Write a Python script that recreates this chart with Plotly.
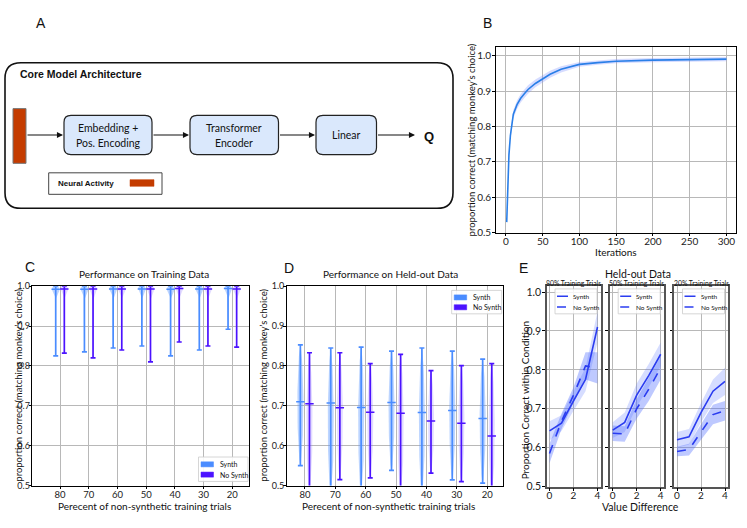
import numpy as np
import plotly.graph_objects as go

W, H = 747, 528
FONT = "Lato"

# ---------------- data ----------------
# Panel B: training curve
iterations = [1, 2, 3, 4, 6, 8, 10, 15, 20, 25, 30, 40, 50, 60, 75, 100, 125, 150, 200, 250, 300]
train_acc = [0.53, 0.62, 0.68, 0.72, 0.775, 0.81, 0.835, 0.862, 0.88, 0.893, 0.905, 0.922, 0.935,
             0.948, 0.962, 0.976, 0.981, 0.985, 0.988, 0.990, 0.991]
train_err = [0.004, 0.008, 0.01, 0.01, 0.012, 0.012, 0.012, 0.012, 0.012, 0.012, 0.012, 0.011, 0.011,
             0.01, 0.009, 0.007, 0.006, 0.006, 0.006, 0.006, 0.006]

# Panels C/D: percent of non-synthetic training trials
pct_labels = ["80", "70", "60", "50", "40", "30", "20"]

C_synth_min = [0.825, 0.835, 0.845, 0.850, 0.825, 0.840, 0.892]
C_synth_med = [0.992, 0.992, 0.993, 0.993, 0.992, 0.993, 0.994]
C_synth_max = [1.0, 1.0, 1.0, 1.0, 1.0, 1.0, 1.0]
C_nosyn_min = [0.832, 0.820, 0.840, 0.810, 0.860, 0.850, 0.847]
C_nosyn_med = [0.993, 0.993, 0.993, 0.993, 0.994, 0.993, 0.993]
C_nosyn_max = [1.0, 1.0, 1.0, 1.0, 1.0, 1.0, 1.0]

D_synth_min = [0.550, 0.470, 0.470, 0.538, 0.470, 0.514, 0.506]
D_synth_med = [0.710, 0.707, 0.696, 0.708, 0.683, 0.688, 0.668]
D_synth_max = [0.853, 0.845, 0.847, 0.837, 0.845, 0.837, 0.817]
D_nosyn_min = [0.470, 0.515, 0.519, 0.470, 0.531, 0.510, 0.470]
D_nosyn_med = [0.705, 0.695, 0.684, 0.681, 0.662, 0.656, 0.624]
D_nosyn_max = [0.833, 0.833, 0.806, 0.829, 0.788, 0.801, 0.806]

# Panel E: value difference curves
value_diff = [0, 1, 2, 3, 4]
E_titles = ["80% Training Trials", "50% Training Trials", "20% Training Trials"]
E_synth = [[0.643, 0.663, 0.720, 0.775, 0.910],
           [0.645, 0.665, 0.735, 0.785, 0.840],
           [0.620, 0.628, 0.690, 0.745, 0.770]]
E_synth_err = [[0.025, 0.020, 0.025, 0.030, 0.040],
               [0.020, 0.025, 0.030, 0.030, 0.030],
               [0.020, 0.020, 0.025, 0.030, 0.035]]
E_nosyn = [[0.585, 0.668, 0.735, 0.810, 0.805],
           [0.637, 0.635, 0.700, 0.750, 0.805],
           [0.590, 0.595, 0.640, 0.685, 0.695]]
E_nosyn_err = [[0.025, 0.020, 0.020, 0.035, 0.040],
               [0.020, 0.020, 0.025, 0.030, 0.030],
               [0.012, 0.015, 0.020, 0.025, 0.025]]

# ---------------- helpers ----------------
def px(x):
    return x / W


def py(y):
    return 1 - y / H


SYN = "#4a8cff"
NOS = "#4b12ff"
SYN_BODY = "rgba(90,150,255,0.40)"
NOS_BODY = "rgba(140,110,255,0.25)"
ELINE = "#2a3cf0"

fig = go.Figure()

# ---- Panel B ----
lo = [a - e for a, e in zip(train_acc, train_err)]
hi = [a + e for a, e in zip(train_acc, train_err)]
fig.add_trace(go.Scatter(x=iterations, y=hi, mode="lines", line=dict(width=0), showlegend=False,
                         hoverinfo="skip", xaxis="x", yaxis="y"))
fig.add_trace(go.Scatter(x=iterations, y=lo, mode="lines", line=dict(width=0), fill="tonexty",
                         fillcolor="rgba(120,140,255,0.30)", showlegend=False, hoverinfo="skip",
                         xaxis="x", yaxis="y"))
fig.add_trace(go.Scatter(x=iterations, y=train_acc, mode="lines", line=dict(color="#2a7fe8", width=1.6),
                         showlegend=False, xaxis="x", yaxis="y"))


# ---- Panels C / D ----
def add_violins(xa, ya, mins, meds, maxs, off, body, line, kind, hw):
    for i, (a, m, b) in enumerate(zip(mins, meds, maxs)):
        x0 = i + off
        ys = np.linspace(a, b, 60)
        if kind == "C":
            w = hw * np.exp(-((ys - m) / 0.013) ** 2) + 0.012
        else:
            t = (ys - a) / (b - a)
            w = hw * np.sin(np.pi * t) ** 0.6
        xs = np.concatenate([x0 - w, (x0 + w)[::-1]])
        yy = np.concatenate([ys, ys[::-1]])
        fig.add_trace(go.Scatter(x=xs, y=yy, mode="lines", fill="toself", fillcolor=body,
                                 line=dict(width=0), showlegend=False, hoverinfo="skip",
                                 xaxis=xa, yaxis=ya))
    xpos = [i + off for i in range(len(meds))]
    fig.add_trace(go.Scatter(
        x=xpos, y=meds, mode="markers",
        marker=dict(symbol="line-ew", size=6, line=dict(color=line, width=1.5)),
        error_y=dict(type="data", symmetric=False,
                     array=[b - m for b, m in zip(maxs, meds)],
                     arrayminus=[m - a for a, m in zip(mins, meds)],
                     color=line, thickness=1.7, width=2.5),
        showlegend=False, xaxis=xa, yaxis=ya))


add_violins("x2", "y2", C_synth_min, C_synth_med, C_synth_max, -0.15, SYN_BODY, SYN, "C", 0.12)
add_violins("x2", "y2", C_nosyn_min, C_nosyn_med, C_nosyn_max, 0.15, NOS_BODY, NOS, "C", 0.12)
add_violins("x3", "y3", D_synth_min, D_synth_med, D_synth_max, -0.15, SYN_BODY, SYN, "D", 0.10)
add_violins("x3", "y3", D_nosyn_min, D_nosyn_med, D_nosyn_max, 0.15, NOS_BODY, NOS, "D", 0.10)

# ---- Panel E ----
for k in range(3):
    xa, ya = "x%d" % (4 + k), "y%d" % (4 + k)
    for vals, errs, col in [(E_synth[k], E_synth_err[k], "rgba(90,120,255,0.25)"),
                            (E_nosyn[k], E_nosyn_err[k], "rgba(70,100,255,0.35)")]:
        fig.add_trace(go.Scatter(x=value_diff, y=[v + e for v, e in zip(vals, errs)], mode="lines",
                                 line=dict(width=0), showlegend=False, hoverinfo="skip",
                                 xaxis=xa, yaxis=ya))
        fig.add_trace(go.Scatter(x=value_diff, y=[v - e for v, e in zip(vals, errs)], mode="lines",
                                 line=dict(width=0), fill="tonexty", fillcolor=col, showlegend=False,
                                 hoverinfo="skip", xaxis=xa, yaxis=ya))
    fig.add_trace(go.Scatter(x=value_diff, y=E_synth[k], mode="lines",
                             line=dict(color=ELINE, width=1.6), showlegend=False, xaxis=xa, yaxis=ya))
    fig.add_trace(go.Scatter(x=value_diff, y=E_nosyn[k], mode="lines",
                             line=dict(color=ELINE, width=1.6, dash="dash"), showlegend=False,
                             xaxis=xa, yaxis=ya))

# ---------------- axes ----------------
common = dict(showline=True, linecolor="black", linewidth=1.2, mirror=True, ticks="outside",
              ticklen=2.5, tickcolor="black", gridcolor="#b8b8b8", gridwidth=1, zeroline=False,
              tickfont=dict(family=FONT, size=10, color="#222"), fixedrange=True,
              ticklabelstandoff=-3)
cdfont = dict(family=FONT, size=9.5, color="#222")
cdyfont = dict(family=FONT, size=9, color="#222")
efont = dict(family=FONT, size=10.5, color="#222")
exfont = dict(family=FONT, size=10, color="#222")

layout_axes = {}
layout_axes["xaxis"] = dict(common, domain=[px(495.7), px(736)], anchor="y", range=[-14, 313],
                            tickvals=[0, 50, 100, 150, 200, 250, 300])
layout_axes["yaxis"] = dict(common, domain=[py(232), py(42)], anchor="x", range=[0.5, 1.025],
                            tickvals=[0.5, 0.6, 0.7, 0.8, 0.9, 1.0], tickformat=".1f",
                            ticklabelstandoff=-1)
layout_axes["xaxis2"] = dict(common, domain=[px(32.3), px(249.3)], anchor="y2", range=[-0.965, 6.59],
                             tickvals=list(range(7)), ticktext=pct_labels, tickfont=cdfont)
layout_axes["yaxis2"] = dict(common, domain=[py(490.7), py(286.7)], anchor="x2", range=[0.5, 1.0],
                             tickvals=[0.5, 0.6, 0.7, 0.8, 0.9, 1.0], tickformat=".1f", tickfont=cdyfont)
layout_axes["xaxis3"] = dict(common, domain=[px(286.7), px(503)], anchor="y3", range=[-0.6, 6.52],
                             tickvals=list(range(7)), ticktext=pct_labels, tickfont=cdfont)
layout_axes["yaxis3"] = dict(common, domain=[py(490.7), py(286.7)], anchor="x3", range=[0.5, 1.0],
                             tickvals=[0.5, 0.6, 0.7, 0.8, 0.9, 1.0], tickformat=".1f", tickfont=cdyfont)
E_dom = [(546.5, 600.5), (609.7, 663.7), (674, 728)]
for k in range(3):
    n = 4 + k
    layout_axes["xaxis%d" % n] = dict(common, domain=[px(E_dom[k][0]), px(E_dom[k][1])],
                                      anchor="y%d" % n, range=[-0.25, 4.25], tickvals=[0, 2, 4],
                                      linecolor="#555", linewidth=1.5, tickfont=exfont,
                                      ticklabelstandoff=-4)
    layout_axes["yaxis%d" % n] = dict(common, domain=[py(491.7), py(286.7)], anchor="x%d" % n,
                                      range=[0.5, 1.015], tickvals=[0.5, 0.6, 0.7, 0.8, 0.9, 1.0],
                                      tickformat=".1f", showticklabels=(k == 0),
                                      linecolor="#555", linewidth=1.5, tickfont=efont,
                                      ticklabelstandoff=-1)

# ---------------- annotations & shapes ----------------
ann = []
shapes = []


def text(x, y, s, size=10, bold=False, angle=0, xanchor="center", family=FONT, color="#111"):
    ann.append(dict(x=px(x), y=py(y), xref="paper", yref="paper", text=("<b>%s</b>" % s) if bold else s,
                    showarrow=False, textangle=angle, xanchor=xanchor, yanchor="middle",
                    font=dict(family=family, size=size, color=color)))


def rrect(x0, y0, x1, y1, r, fill, line, lw):
    rx, ry = r / W, r / H
    X0, X1 = px(x0), px(x1)
    Y0, Y1 = py(y0), py(y1)  # Y0 top (larger), Y1 bottom
    p = (f"M {X0+rx},{Y0} L {X1-rx},{Y0} Q {X1},{Y0} {X1},{Y0-ry} L {X1},{Y1+ry} "
         f"Q {X1},{Y1} {X1-rx},{Y1} L {X0+rx},{Y1} Q {X0},{Y1} {X0},{Y1+ry} "
         f"L {X0},{Y0-ry} Q {X0},{Y0} {X0+rx},{Y0} Z")
    shapes.append(dict(type="path", path=p, xref="paper", yref="paper", fillcolor=fill,
                       line=dict(color=line, width=lw), layer="above"))


def rect(x0, y0, x1, y1, fill, line, lw):
    shapes.append(dict(type="rect", x0=px(x0), x1=px(x1), y0=py(y1), y1=py(y0), xref="paper",
                       yref="paper", fillcolor=fill, line=dict(color=line, width=lw), layer="above"))


def arrow(x0, x1, y):
    ann.append(dict(x=px(x1), y=py(y), xref="paper", yref="paper", ax=x0 - x1, ay=0, text="",
                    showarrow=True, arrowhead=2, arrowsize=1.1, arrowwidth=1.1, arrowcolor="#111"))


# Panel A diagram
rrect(5, 58, 453, 207, 16, "rgba(0,0,0,0)", "#111", 1.6)
text(18, 70, "Core Model Architecture", size=10.5, bold=True, xanchor="left", family="Liberation Sans")
rect(13, 105, 26, 161, "#c43c00", "#777", 1)
BOX = "#dae8fc"
rrect(64, 112, 152, 152, 7, BOX, "#222", 1.2)
rrect(190, 112, 278.5, 152, 7, BOX, "#222", 1.2)
rrect(316, 112, 376.5, 152, 7, BOX, "#222", 1.2)
text(108, 125, "Embedding +", size=10.5)
text(108, 140, "Pos. Encoding", size=10.5)
text(234, 125, "Transformer", size=10.5)
text(234, 140, "Encoder", size=10.5)
text(346, 132, "Linear", size=10.5)
text(429, 134, "Q", size=13, bold=True, family="Liberation Sans")
arrow(26, 63, 132)
arrow(152, 189, 132)
arrow(278.5, 315, 132)
arrow(376.5, 415, 132)
rect(48.7, 170.7, 162, 192.7, "white", "#444", 1)
text(56, 181.5, "Neural Activity", size=8, bold=True, xanchor="left", family="Liberation Sans")
rect(130, 177.7, 154, 184.5, "#c43c00", "#c43c00", 0.5)

# panel labels
text(41, 17, "A", size=14, family="Liberation Sans")
text(487, 17, "B", size=14, family="Liberation Sans")
text(30, 267, "C", size=14, family="Liberation Sans")
text(289, 268, "D", size=14, family="Liberation Sans")
text(523, 268, "E", size=14, family="Liberation Sans")

# axis titles
YT = "proportion correct (matching monkey\u2019s choice)"
text(471.5, 137, YT, size=9.5, angle=-90)
text(616, 252, "Iterations", size=10)
text(18.5, 388, YT, size=9.5, angle=-90)
text(263.5, 388, YT, size=9.5, angle=-90)
text(144, 274, "Performance on Training Data", size=10)
text(390, 274, "Performance on Held-out Data", size=10)
text(144, 512, "Perecent of non-synthetic training trials", size=10)
text(388, 511.5, "Perecent of non-synthetic training trials", size=10)
text(638, 274.5, "Held-out Data", size=10.5)
for k in range(3):
    text((E_dom[k][0] + E_dom[k][1]) / 2, 283, E_titles[k], size=6.8)
text(640, 512.5, "Value Difference", size=10.5)
text(524.5, 404, "Proportion Correct within Condition", size=10, angle=-90)

# Panel C / D legends (patches)
for (bx0, by0, bx1, by1) in [(198.5, 461.5, 248, 486.5), (451.7, 291, 501.7, 315)]:
    rect(bx0, by0, bx1, by1, "rgba(255,255,255,0.9)", "#cccccc", 0.8)
    h = (by1 - by0)
    y1c = by0 + h * 0.3
    y2c = by0 + h * 0.72
    rect(bx0 + 2.5, y1c - 2.6, bx0 + 15, y1c + 2.6, SYN, SYN, 0.5)
    rect(bx0 + 2.5, y2c - 2.6, bx0 + 15, y2c + 2.6, NOS, NOS, 0.5)
    text(bx0 + 19, y1c, "Synth", size=7, xanchor="left")
    text(bx0 + 19, y2c, "No Synth", size=7, xanchor="left")

# Panel E manual legends
for k in range(3):
    x0 = E_dom[k][0] + 8.5
    rect(x0, 289.5, x0 + 42, 315, "rgba(255,255,255,0.85)", "#ccc", 0.8)
    shapes.append(dict(type="line", x0=px(x0 + 2), x1=px(x0 + 13), y0=py(297), y1=py(297), xref="paper",
                       yref="paper", line=dict(color=ELINE, width=1.5), layer="above"))
    shapes.append(dict(type="line", x0=px(x0 + 2), x1=px(x0 + 13), y0=py(308), y1=py(308), xref="paper",
                       yref="paper", line=dict(color=ELINE, width=1.5, dash="dash"), layer="above"))
    text(x0 + 16, 297, "Synth", size=6.5, xanchor="left")
    text(x0 + 16, 308, "No Synth", size=6.5, xanchor="left")

fig.update_layout(
    width=W, height=H, margin=dict(l=0, r=0, t=0, b=0),
    paper_bgcolor="white", plot_bgcolor="white",
    showlegend=False,
    annotations=ann, shapes=shapes,
    font=dict(family=FONT),
    **layout_axes,
)

fig.write_html("out.html", config={"displayModeBar": False},
               post_script="document.body.style.margin='0';document.body.style.overflow='hidden';")
